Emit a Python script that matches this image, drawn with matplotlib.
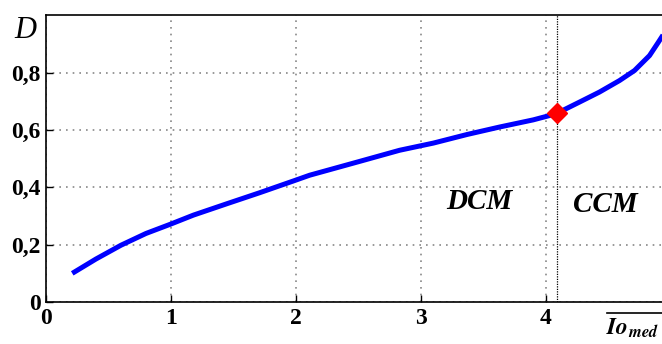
import matplotlib
matplotlib.use('Agg')
import matplotlib.pyplot as plt
from matplotlib.lines import Line2D

# curve: normalised output current vs duty cycle
io_med = [0.21, 0.4, 0.6, 0.8, 1.0, 1.18, 1.45, 1.71, 1.98, 2.11, 2.5, 2.83,
          3.10, 3.37, 3.63, 3.90, 4.03, 4.09, 4.27, 4.43, 4.59, 4.71, 4.83,
          4.90, 4.94]
duty = [0.100, 0.150, 0.198, 0.239, 0.272, 0.303, 0.343, 0.381, 0.422, 0.442,
        0.489, 0.529, 0.554, 0.584, 0.610, 0.635, 0.650, 0.658, 0.697, 0.732,
        0.772, 0.807, 0.859, 0.905, 0.932]

# boundary between the two conduction modes
boundary_x = 4.09
boundary_d = 0.658

xticks = [0, 1, 2, 3, 4]
yticks = [0, 0.2, 0.4, 0.6, 0.8]
ytick_labels = ['0', '0,2', '0,4', '0,6', '0,8']

plt.rcParams['font.family'] = ['Liberation Serif', 'DejaVu Serif']
plt.rcParams['mathtext.fontset'] = 'stix'

fig = plt.figure(figsize=(6.62, 3.44), dpi=100)
ax = fig.add_axes([0.0695, 0.122, 0.9305, 0.834])

ax.plot(io_med, duty, color='#0000ff', lw=3.6, solid_capstyle='butt',
        solid_joinstyle='round', zorder=3)
ax.axvline(boundary_x, color='black', lw=0.9, ls=(0, (1, 1)), zorder=2)
ax.plot([boundary_x], [boundary_d], marker='D', color='#ff0000', ms=10,
        mec='#ff0000', zorder=4)

ax.set_xlim(0, 4.93)
ax.set_ylim(0, 1.0)
ax.set_xticks(xticks)
ax.set_xticklabels([str(t) for t in xticks])
ax.set_yticks(yticks)
ax.set_yticklabels(ytick_labels)
ax.tick_params(direction='in', length=5, width=1, labelsize=17, pad=4)
for lab in ax.get_xticklabels() + ax.get_yticklabels():
    lab.set_fontweight('bold')

ax.grid(True, color='#888888', ls=(0, (1, 3)), lw=1.2)
ax.spines['right'].set_visible(False)
for s in ['left', 'bottom', 'top']:
    ax.spines[s].set_linewidth(1.2)

ax.text(3.47, 0.35, 'DCM', fontsize=21, fontweight='bold', style='italic',
        ha='center', va='center')
ax.text(4.48, 0.34, 'CCM', fontsize=21, fontweight='bold', style='italic',
        ha='center', va='center')

fig.text(0.038, 0.91, 'D', fontsize=22, style='italic', ha='center', va='center')
fig.text(0.915, 0.012, r'$\mathbfit{Io}_{\mathbfit{med}}$', fontsize=17,
         ha='left', va='bottom')
fig.add_artist(Line2D([607 / 662, 1.0], [1 - 313 / 344, 1 - 313 / 344],
                      color='black', lw=1.2, transform=fig.transFigure))

fig.savefig('out.png', dpi=100)
